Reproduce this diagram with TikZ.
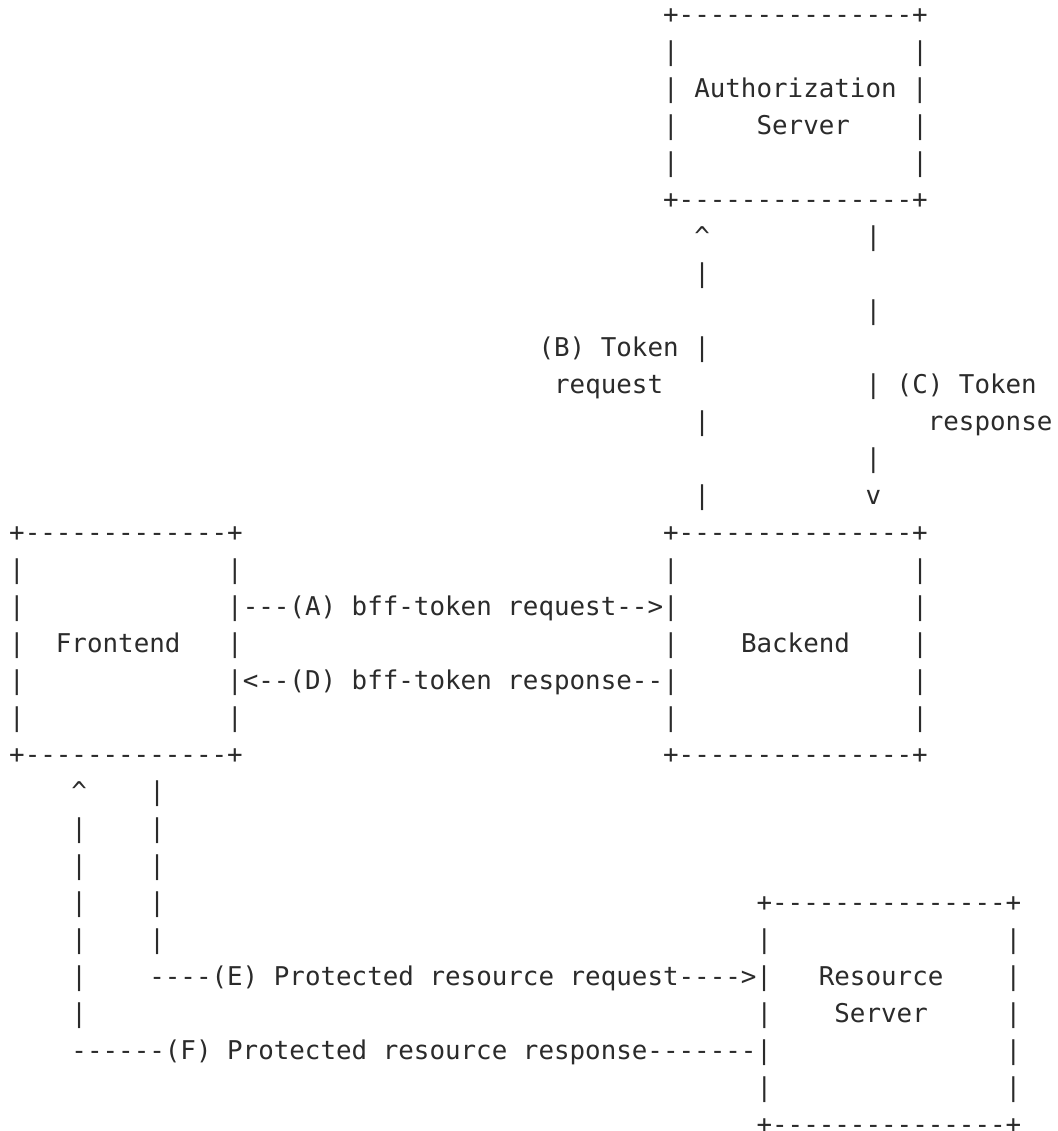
\documentclass[tikz,border=0pt]{standalone}
\usepackage{fontspec}
\setmonofont{DejaVu Sans Mono}
\definecolor{ink}{HTML}{2B2B2B}
\tikzset{
  asc/.style={anchor=base west, inner sep=0pt, outer sep=0pt, text=ink,
    font=\ttfamily\fontsize{25.86pt}{37pt}\selectfont\frenchspacing}
}
\begin{document}
\begin{tikzpicture}
\useasboundingbox[fill=white] (0,0) rectangle (1057pt,-1131pt);
\begin{scope}[shift={(9.2pt,-23.6pt)}, x=15.57pt, y=-37pt]
% Authorization Server
\node[asc] (a0)  at (42,0) {+---------------+};
\node[asc] (a1l) at (42,1) {|};
\node[asc] (a1r) at (58,1) {|};
\node[asc] (a2)  at (42,2) {| Authorization |};
\node[asc] (a3l) at (42,3) {|};
\node[asc] (a3t) at (48,3) {Server};
\node[asc] (a3r) at (58,3) {|};
\node[asc] (a4l) at (42,4) {|};
\node[asc] (a4r) at (58,4) {|};
\node[asc] (a5)  at (42,5) {+---------------+};
% B / C arrows
\node[asc] (b6)  at (44,6) {\textasciicircum};
\node[asc] (c6)  at (55,6) {|};
\node[asc] (b7)  at (44,7) {|};
\node[asc] (c8)  at (55,8) {|};
\node[asc] (b9)  at (34,9) {(B) Token |};
\node[asc] (b10) at (35,10) {request};
\node[asc] (c10) at (55,10) {| (C) Token};
\node[asc] (b11) at (44,11) {|};
\node[asc] (c11) at (59,11) {response};
\node[asc] (c12) at (55,12) {|};
\node[asc] (b13) at (44,13) {|};
\node[asc] (c13) at (55,13) {v};
% Frontend and Backend
\node[asc] (f14) at (0,14) {+-------------+};
\node[asc] (k14) at (42,14) {+---------------+};
\node[asc] (f15l) at (0,15) {|};
\node[asc] (f15r) at (14,15) {|};
\node[asc] (k15l) at (42,15) {|};
\node[asc] (k15r) at (58,15) {|};
\node[asc] (f16l) at (0,16) {|};
\node[asc] (e16)  at (14,16) {|---(A) bff-token request-->|};
\node[asc] (k16r) at (58,16) {|};
\node[asc] (f17l) at (0,17) {|};
\node[asc] (f17t) at (3,17) {Frontend};
\node[asc] (f17r) at (14,17) {|};
\node[asc] (k17l) at (42,17) {|};
\node[asc] (k17t) at (47,17) {Backend};
\node[asc] (k17r) at (58,17) {|};
\node[asc] (f18l) at (0,18) {|};
\node[asc] (e18)  at (14,18) {|<--(D) bff-token response--|};
\node[asc] (k18r) at (58,18) {|};
\node[asc] (f19l) at (0,19) {|};
\node[asc] (f19r) at (14,19) {|};
\node[asc] (k19l) at (42,19) {|};
\node[asc] (k19r) at (58,19) {|};
\node[asc] (f20) at (0,20) {+-------------+};
\node[asc] (k20) at (42,20) {+---------------+};
% E / F arrows
\node[asc] (p21) at (4,21) {\textasciicircum};
\node[asc] (q21) at (9,21) {|};
\node[asc] (p22) at (4,22) {|};
\node[asc] (q22) at (9,22) {|};
\node[asc] (p23) at (4,23) {|};
\node[asc] (q23) at (9,23) {|};
\node[asc] (p24) at (4,24) {|};
\node[asc] (q24) at (9,24) {|};
\node[asc] (r24) at (48,24) {+---------------+};
\node[asc] (p25) at (4,25) {|};
\node[asc] (q25) at (9,25) {|};
\node[asc] (r25l) at (48,25) {|};
\node[asc] (r25r) at (64,25) {|};
\node[asc] (p26) at (4,26) {|};
\node[asc] (q26) at (9,26) {----(E) Protected resource request---->|};
\node[asc] (r26t) at (52,26) {Resource};
\node[asc] (r26r) at (64,26) {|};
\node[asc] (p27) at (4,27) {|};
\node[asc] (r27l) at (48,27) {|};
\node[asc] (r27t) at (53,27) {Server};
\node[asc] (r27r) at (64,27) {|};
\node[asc] (p28) at (4,28) {------(F) Protected resource response-------|};
\node[asc] (r28r) at (64,28) {|};
\node[asc] (r29l) at (48,29) {|};
\node[asc] (r29r) at (64,29) {|};
\node[asc] (r30) at (48,30) {+---------------+};
\end{scope}
\end{tikzpicture}
\end{document}
